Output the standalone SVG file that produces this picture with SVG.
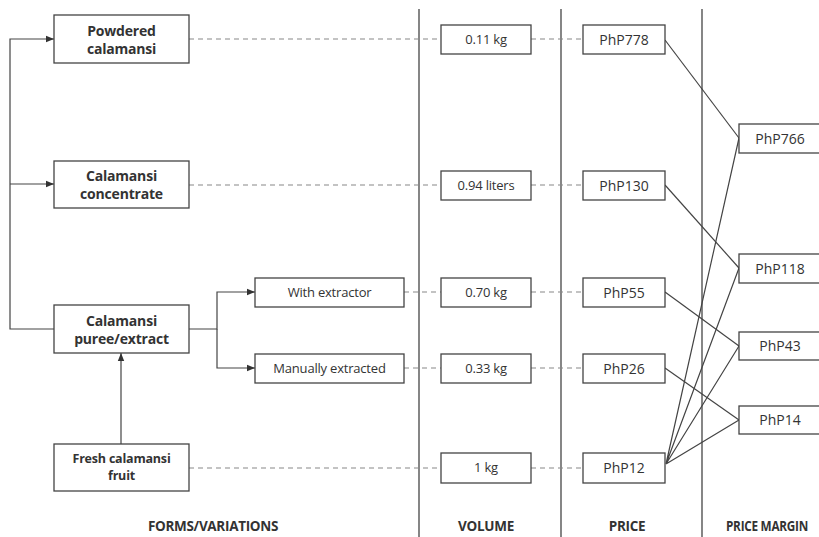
<svg xmlns="http://www.w3.org/2000/svg" width="819" height="537" viewBox="0 0 819 537">
  <style>
    .box { fill: #fff; stroke: #444; stroke-width: 1.3; }
    .lbl { font-family: "Open Sans", "Noto Sans", sans-serif; fill: #333; text-anchor: middle; }
    .b { font-weight: bold; font-size: 14px; letter-spacing: -0.2px; }
    .r { font-size: 13px; letter-spacing: -0.2px; }
    .p { font-size: 14px; }
    .head { font-family: "Open Sans", "Noto Sans", sans-serif; font-weight: bold; font-size: 13.5px; fill: #333; text-anchor: middle; letter-spacing: -0.3px; }
    .solid { fill: none; stroke: #444; stroke-width: 1.2; }
    .dash { fill: none; stroke: #888; stroke-width: 1.2; stroke-dasharray: 5 4; }
    .col { stroke: #444; stroke-width: 1.3; }
  </style>
  <defs>
    <marker id="arrow" viewBox="0 0 8 8" refX="8" refY="4" markerWidth="8" markerHeight="8" markerUnits="userSpaceOnUse" orient="auto">
      <path d="M0,0.8 L8,4 L0,7.2 Z" fill="#333"/>
    </marker>
  </defs>
  <rect width="819" height="537" fill="#fff"/>

  <!-- column separators -->
  <g id="columns">
    <line class="col" x1="419" y1="9" x2="419" y2="537"/>
    <line class="col" x1="561" y1="9" x2="561" y2="537"/>
    <line class="col" x1="702" y1="9" x2="702" y2="537"/>
  </g>

  <!-- connectors -->
  <g id="connectors">
    <!-- branch from puree/extract to the other forms -->
    <path class="solid" d="M54,329 H10 V39 H54" marker-end="url(#arrow)"/>
    <path class="solid" d="M10,184 H54" marker-end="url(#arrow)"/>
    <path class="solid" d="M189,329 H217 V292 H255" marker-end="url(#arrow)"/>
    <path class="solid" d="M217,329 V368 H255" marker-end="url(#arrow)"/>
    <path class="solid" d="M121,444 V353" marker-end="url(#arrow)"/>

    <!-- dashed row links -->
    <path class="dash" d="M189,39 H441 M531,39 H583"/>
    <path class="dash" d="M189,185 H441 M531,185 H583"/>
    <path class="dash" d="M404,292 H441 M531,292 H583"/>
    <path class="dash" d="M404,368 H441 M531,368 H583"/>
    <path class="dash" d="M189,468 H441 M531,468 H583"/>

    <!-- price to margin -->
    <path class="solid" d="M665,40 L739,138"/>
    <path class="solid" d="M665,185 L739,268"/>
    <path class="solid" d="M665,292 L739,346"/>
    <path class="solid" d="M665,368 L739,420"/>
    <path class="solid" d="M666,464 L739,138 M666,464 L739,268 M666,464 L739,346 M666,464 L739,420"/>
  </g>

  <!-- forms / variations -->
  <g id="powdered">
    <rect class="box" x="54" y="15" width="135" height="48"/>
    <text class="lbl b" x="121.5" y="36">Powdered</text>
    <text class="lbl b" x="121.5" y="54">calamansi</text>
  </g>
  <g id="concentrate">
    <rect class="box" x="54" y="161" width="135" height="47"/>
    <text class="lbl b" x="121.5" y="181">Calamansi</text>
    <text class="lbl b" x="121.5" y="199">concentrate</text>
  </g>
  <g id="puree">
    <rect class="box" x="54" y="305" width="135" height="48"/>
    <text class="lbl b" x="121.5" y="326">Calamansi</text>
    <text class="lbl b" x="121.5" y="344">puree/extract</text>
  </g>
  <g id="fresh">
    <rect class="box" x="54" y="444" width="135" height="47"/>
    <text class="lbl b" x="121.5" y="463" style="font-size:12.5px">Fresh calamansi</text>
    <text class="lbl b" x="121.5" y="480" style="font-size:12.5px">fruit</text>
  </g>
  <g id="with-extractor">
    <rect class="box" x="255" y="278" width="149" height="29"/>
    <text class="lbl r" x="329.5" y="297">With extractor</text>
  </g>
  <g id="manual">
    <rect class="box" x="255" y="354" width="149" height="29"/>
    <text class="lbl r" x="329.5" y="373">Manually extracted</text>
  </g>

  <!-- volume -->
  <g id="vol-powdered">
    <rect class="box" x="441" y="25" width="90" height="29"/>
    <text class="lbl r" x="486" y="44">0.11 kg</text>
  </g>
  <g id="vol-concentrate">
    <rect class="box" x="441" y="171" width="90" height="29"/>
    <text class="lbl r" x="486" y="190">0.94 liters</text>
  </g>
  <g id="vol-extractor">
    <rect class="box" x="441" y="278" width="90" height="29"/>
    <text class="lbl r" x="486" y="297">0.70 kg</text>
  </g>
  <g id="vol-manual">
    <rect class="box" x="441" y="354" width="90" height="29"/>
    <text class="lbl r" x="486" y="373">0.33 kg</text>
  </g>
  <g id="vol-fresh">
    <rect class="box" x="441" y="453" width="90" height="30"/>
    <text class="lbl r" x="486" y="472">1 kg</text>
  </g>

  <!-- price -->
  <g id="price-778">
    <rect class="box" x="583" y="25" width="82" height="29"/>
    <text class="lbl p" x="624" y="45">PhP778</text>
  </g>
  <g id="price-130">
    <rect class="box" x="583" y="171" width="82" height="29"/>
    <text class="lbl p" x="624" y="191">PhP130</text>
  </g>
  <g id="price-55">
    <rect class="box" x="583" y="278" width="82" height="29"/>
    <text class="lbl p" x="624" y="298">PhP55</text>
  </g>
  <g id="price-26">
    <rect class="box" x="583" y="354" width="82" height="29"/>
    <text class="lbl p" x="624" y="374">PhP26</text>
  </g>
  <g id="price-12">
    <rect class="box" x="583" y="453" width="82" height="30"/>
    <text class="lbl p" x="624" y="473">PhP12</text>
  </g>

  <!-- price margin -->
  <g id="margin-766">
    <rect class="box" x="739" y="124" width="90" height="29"/>
    <text class="lbl p" x="780" y="144">PhP766</text>
  </g>
  <g id="margin-118">
    <rect class="box" x="739" y="254" width="90" height="29"/>
    <text class="lbl p" x="780" y="274">PhP118</text>
  </g>
  <g id="margin-43">
    <rect class="box" x="739" y="332" width="90" height="28"/>
    <text class="lbl p" x="780" y="351">PhP43</text>
  </g>
  <g id="margin-14">
    <rect class="box" x="739" y="406" width="90" height="28"/>
    <text class="lbl p" x="780" y="425">PhP14</text>
  </g>

  <!-- column headings -->
  <g id="headings">
    <text class="head" x="213" y="531">FORMS/VARIATIONS</text>
    <text class="head" x="486" y="531">VOLUME</text>
    <text class="head" x="627" y="531">PRICE</text>
    <text class="head" x="767" y="531" textLength="82" lengthAdjust="spacingAndGlyphs">PRICE MARGIN</text>
  </g>
</svg>
